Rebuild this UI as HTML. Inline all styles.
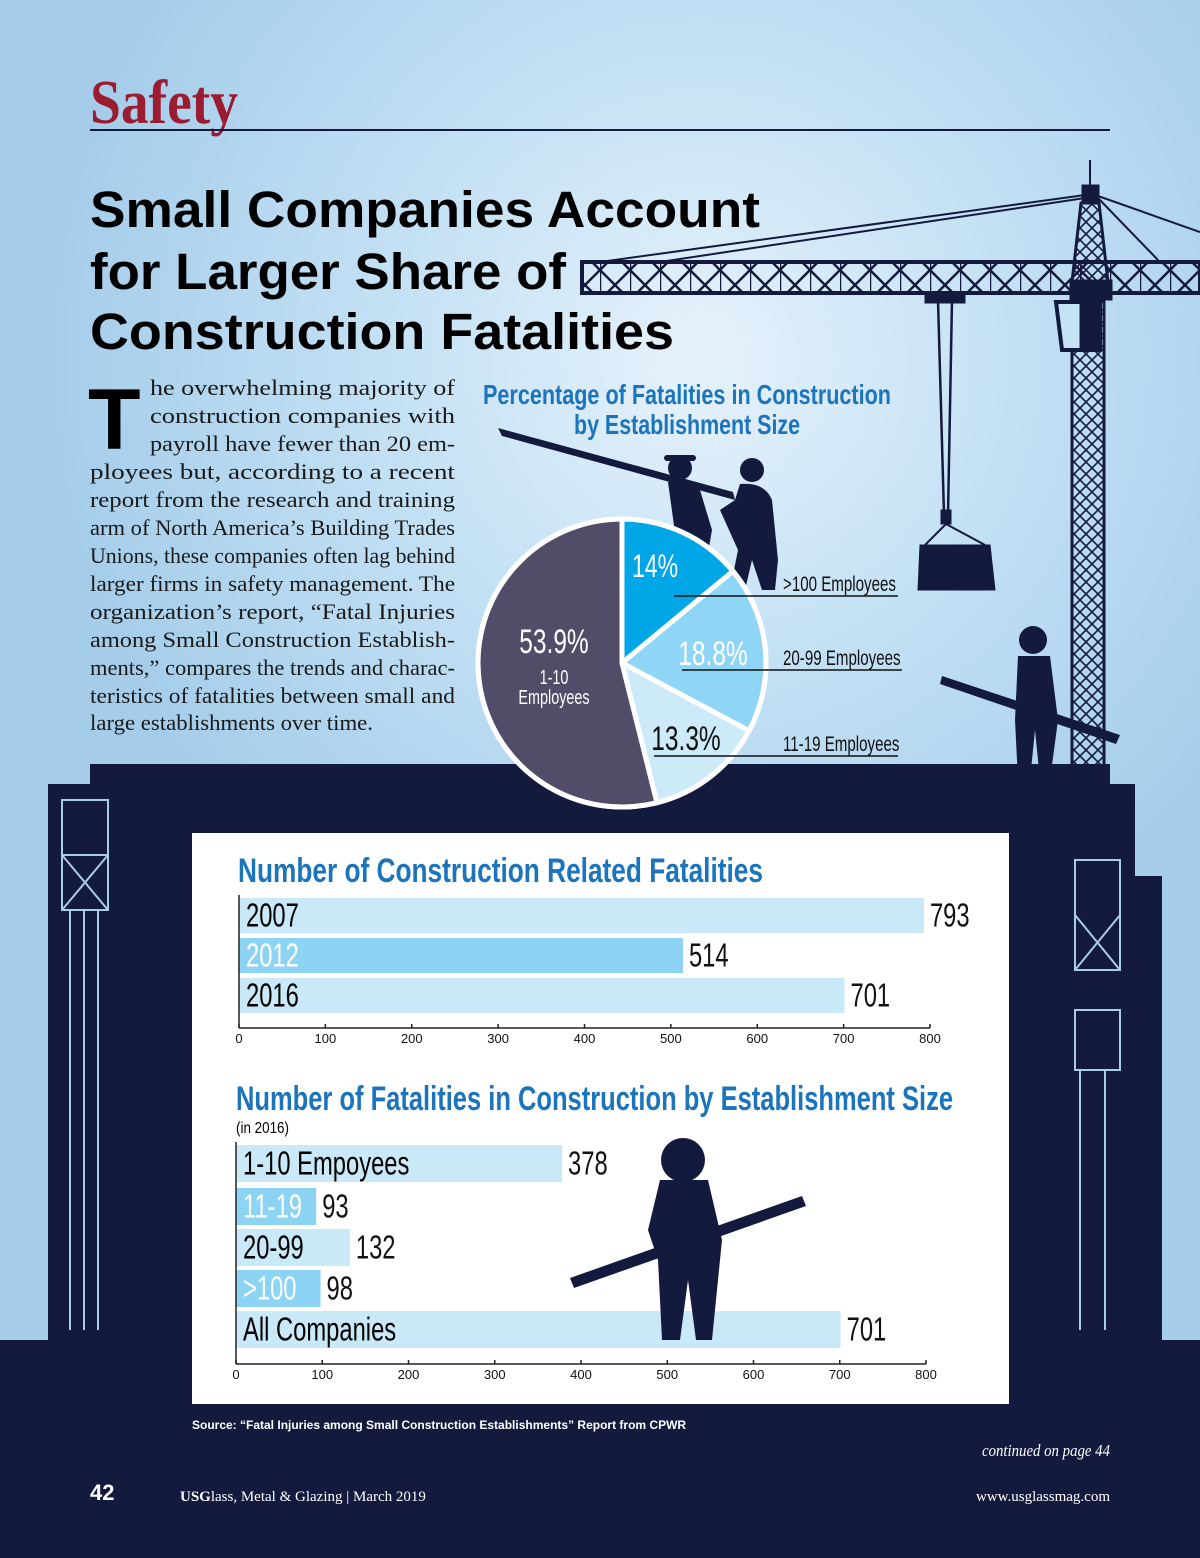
<!DOCTYPE html>
<html><head><meta charset="utf-8">
<style>
html,body{margin:0;padding:0;width:1200px;height:1558px;overflow:hidden}
svg{display:block}
.n{font-family:"Liberation Sans Narrow","Liberation Sans",sans-serif}
.s{font-family:"Liberation Serif",serif}
.a{font-family:"Liberation Sans",sans-serif}
</style></head>
<body>
<svg id="page" width="1200" height="1558" viewBox="0 0 1200 1558" xmlns="http://www.w3.org/2000/svg">
<defs>
<radialGradient id="bg" cx="700" cy="360" r="650" gradientUnits="userSpaceOnUse">
<stop offset="0" stop-color="#e6f2fb"/><stop offset="0.45" stop-color="#c6e2f5"/><stop offset="1" stop-color="#a5cdea"/>
</radialGradient>
<pattern id="lat" width="12" height="12" patternUnits="userSpaceOnUse">
<path d="M0 0L12 12M12 0L0 12" stroke="#141a3d" stroke-width="1.6"/>
</pattern>
<pattern id="jl" width="30" height="30" patternUnits="userSpaceOnUse">
<path d="M0 0L30 30M30 0L0 30M0 0V30" stroke="#141a3d" stroke-width="2.5"/>
</pattern>
</defs>
<rect width="1200" height="1558" fill="url(#bg)"/>

<g fill="#141a3d" stroke="#141a3d">
<line x1="1090" y1="160" x2="1090" y2="190" stroke-width="2"/>
<line x1="1085" y1="195" x2="600" y2="262" stroke-width="2"/>
<line x1="1085" y1="198" x2="660" y2="262" stroke-width="2"/>
<line x1="1098" y1="196" x2="1200" y2="232" stroke-width="2"/>
<line x1="1098" y1="198" x2="1158" y2="260" stroke-width="2"/>
<rect x="1082" y="185" width="17" height="18"/>
<path d="M1081 203L1072 282H1108L1099 203Z" fill="url(#lat)" stroke-width="3"/>
<rect x="582" y="262" width="618" height="31" fill="url(#jl)" stroke-width="4"/>
<rect x="1070" y="280" width="42" height="20"/>
<rect x="1072" y="300" width="32" height="480" fill="url(#lat)" stroke-width="3"/>
<path d="M1056 302H1100V350H1062Z" stroke-width="4" fill="#c6e3f6"/>
<rect x="1080" y="302" width="20" height="48"/>
<rect x="925" y="293" width="40" height="10"/>
<line x1="938" y1="300" x2="944" y2="515" stroke-width="2.5"/>
<line x1="952" y1="300" x2="948" y2="515" stroke-width="2.5"/>
<rect x="941" y="510" width="10" height="14"/>
<path d="M946 524L925 545M946 524L985 545" stroke-width="2" fill="none"/>
<path d="M920 545H990L995 590H918Z"/>
</g>

<g fill="#141a3d">
<rect x="90" y="764" width="1020" height="30"/>
<rect x="48" y="784" width="1087" height="780"/>
<rect x="0" y="1340" width="1200" height="218"/>
<rect x="1100" y="876" width="62" height="470"/>
</g>
<g stroke="#a9cde8" stroke-width="2" fill="none">
<rect x="62" y="800" width="46" height="110"/>
<path d="M62 855L108 910M108 855L62 910M62 855H108"/>
<path d="M70 910V1330M84 910V1330M98 910V1330"/>
<rect x="1075" y="860" width="45" height="110"/>
<path d="M1075 915L1120 970M1120 915L1075 970"/>
<rect x="1075" y="1010" width="45" height="60"/>
<path d="M1080 1070V1330M1105 1070V1330"/>
</g>

<g fill="#141a3d">
<path d="M498 428L502 436L735 500L733 492Z"/>
<circle cx="680" cy="468" r="12"/><rect x="664" y="455" width="32" height="6" rx="3"/>
<path d="M668 482Q690 478 700 490L712 530L705 570L712 590H700L690 560L682 590H670L676 540Z"/>
<circle cx="752" cy="470" r="12"/>
<path d="M740 484Q765 482 772 500L778 560L775 590H762L752 560L745 590H730L738 550L720 510L735 500Z"/>
<circle cx="1033" cy="640" r="14"/>
<path d="M1018 656H1050L1058 720L1050 780H1040L1035 730L1030 780H1018L1015 720Z"/>
<path d="M942 676L1120 735L1116 744L940 684Z"/>
</g>

<text x="90" y="123" class="s" font-size="62" font-weight="bold" fill="#9b1b30" textLength="148" lengthAdjust="spacingAndGlyphs">Safety</text>
<line x1="90" y1="130" x2="1110" y2="130" stroke="#141a3d" stroke-width="2"/>
<g class="a" font-weight="bold" font-size="51" fill="#000">
<text x="90" y="227" textLength="670" lengthAdjust="spacingAndGlyphs">Small Companies Account</text>
<text x="90" y="289" textLength="476" lengthAdjust="spacingAndGlyphs">for Larger Share of</text>
<text x="90" y="349" textLength="584" lengthAdjust="spacingAndGlyphs">Construction Fatalities</text>
</g>

<g class="s" font-size="22" fill="#1a1a1a">
<text x="88" y="449" font-size="86" font-weight="bold" class="a" fill="#000">T</text>
<text x="150" y="395" textLength="305" lengthAdjust="spacingAndGlyphs">he overwhelming majority of</text>
<text x="150" y="423" textLength="305" lengthAdjust="spacingAndGlyphs">construction companies with</text>
<text x="150" y="451" textLength="305" lengthAdjust="spacingAndGlyphs">payroll have fewer than 20 em-</text>
<text x="90" y="479" textLength="365" lengthAdjust="spacingAndGlyphs">ployees but, according to a recent</text>
<text x="90" y="507" textLength="365" lengthAdjust="spacingAndGlyphs">report from the research and training</text>
<text x="90" y="535" textLength="365" lengthAdjust="spacingAndGlyphs">arm of North America’s Building Trades</text>
<text x="90" y="563" textLength="365" lengthAdjust="spacingAndGlyphs">Unions, these companies often lag behind</text>
<text x="90" y="591" textLength="365" lengthAdjust="spacingAndGlyphs">larger firms in safety management. The</text>
<text x="90" y="619" textLength="365" lengthAdjust="spacingAndGlyphs">organization’s report, “Fatal Injuries</text>
<text x="90" y="647" textLength="365" lengthAdjust="spacingAndGlyphs">among Small Construction Establish-</text>
<text x="90" y="675" textLength="365" lengthAdjust="spacingAndGlyphs">ments,” compares the trends and charac-</text>
<text x="90" y="703" textLength="365" lengthAdjust="spacingAndGlyphs">teristics of fatalities between small and</text>
<text x="90" y="730" textLength="283" lengthAdjust="spacingAndGlyphs">large establishments over time.</text>
</g>

<g class="n" font-weight="bold" font-size="28" fill="#1b74bc" text-anchor="middle">
<text x="687" y="404" textLength="408" lengthAdjust="spacingAndGlyphs">Percentage of Fatalities in Construction</text>
<text x="687" y="434" textLength="226" lengthAdjust="spacingAndGlyphs">by Establishment Size</text>
</g>
<g id="pie"></g>

<rect x="192" y="833" width="817" height="571" fill="#fff"/>
<text x="238" y="882" class="n" font-weight="bold" font-size="34" fill="#1b74bc" textLength="525" lengthAdjust="spacingAndGlyphs">Number of Construction Related Fatalities</text>
<g id="bar1"></g>
<text x="236" y="1110" class="n" font-weight="bold" font-size="34" fill="#1b74bc" textLength="717" lengthAdjust="spacingAndGlyphs">Number of Fatalities in Construction by Establishment Size</text>
<text x="236" y="1133" class="n" font-size="16" fill="#000" textLength="53" lengthAdjust="spacingAndGlyphs">(in 2016)</text>
<g id="bar2"></g>
<g id="w2" fill="#141a3d">
<circle cx="683" cy="1160" r="22"/>
<path d="M660 1180H708L722 1240L712 1340H696L688 1280L680 1340H662L658 1260L648 1230Z"/>
<path d="M570 1278L802 1196L806 1206L574 1288Z"/>
</g>

<text x="192" y="1429" class="a" font-weight="bold" font-size="12" fill="#fff">Source: “Fatal Injuries among Small Construction Establishments” Report from CPWR</text>
<text x="1110" y="1456" class="s" font-style="italic" font-size="17" fill="#fff" text-anchor="end" textLength="128" lengthAdjust="spacingAndGlyphs">continued on page 44</text>
<text x="90" y="1500" class="a" font-weight="bold" font-size="22" fill="#fff">42</text>
<text x="180" y="1501" class="s" font-size="15" fill="#fff"><tspan font-weight="bold">USG</tspan>lass, Metal &amp; Glazing  |  March 2019</text>
<text x="1110" y="1501" class="s" font-size="15" fill="#fff" text-anchor="end">www.usglassmag.com</text>
</svg>
<script>
const NS="http://www.w3.org/2000/svg";
const pieLabels=[">100 Employees","20-99 Employees","11-19 Employees","1-10 Employees"];
const pieValues=[14,18.8,13.3,53.9];
const pieText=["14%","18.8%","13.3%","53.9%"];
const yearCats=["2007","2012","2016"];
const yearVals=[793,514,701];
const sizeCats=["1-10 Empoyees","11-19","20-99",">100","All Companies"];
const sizeVals=[378,93,132,98,701];
const ticks=[0,100,200,300,400,500,600,700,800];

function mk(tag,attrs,parent,txt){const e=document.createElementNS(NS,tag);for(const k in attrs)e.setAttribute(k,attrs[k]);if(txt!==undefined)e.textContent=txt;parent.appendChild(e);return e;}
// narrow text: horizontally compressed
function nt(x,y,size,fill,txt,parent,anchor){
const e=mk('text',{x:0,y:0,'font-size':size,fill:fill,class:'a',transform:`translate(${x},${y}) scale(0.72,1)`},parent,txt);
if(anchor)e.setAttribute('text-anchor',anchor);
return e;
}

(function(){
const g=document.getElementById('pie');
const cx=622,cy=663,r=144;
const cols=["#00a6e6","#8fd5f5","#cdeaf9","#514c68"];
const tcol=["#fff","#fff","#111","#fff"];
const total=pieValues.reduce((a,b)=>a+b,0);
let a0=-Math.PI/2;
pieValues.forEach((v,i)=>{
const a1=a0+v/total*2*Math.PI;
const x0=cx+r*Math.cos(a0),y0=cy+r*Math.sin(a0),x1=cx+r*Math.cos(a1),y1=cy+r*Math.sin(a1);
const p=mk('path',{d:`M${cx} ${cy}L${x0} ${y0}A${r} ${r} 0 ${a1-a0>Math.PI?1:0} 1 ${x1} ${y1}Z`,fill:cols[i],stroke:'#fff','stroke-width':5},g);


a0=a1;
});
mk('circle',{cx,cy,r,fill:'none',stroke:'#fff','stroke-width':5},g);
const pos=[[655,577,32],[713,665,34],[686,750,34],[554,653,34]];
pieText.forEach((t,i)=>{
const e=nt(pos[i][0],pos[i][1],pos[i][2],tcol[i],t,g,'middle');


});
nt(554,684,20,'#fff','1-10',g,'middle');
nt(554,704,20,'#fff','Employees',g,'middle');
const lab=[[783,591,674,596,898],[783,665,682,670,902],[783,751,654,756,898]];
for(let i=0;i<3;i++){
const L=lab[i];
const e=nt(L[0],L[1],21,'#111',pieLabels[i],g);


mk('line',{x1:L[2],y1:L[3],x2:L[4],y2:L[3],stroke:'#111','stroke-width':1.5},g);
}
})();

function barChart(id,cats,vals,x0,x800,tops,h,axisY,cols,labCols){
const g=document.getElementById(id);
const sx=v=>x0+(x800-x0)*v/800;
cats.forEach((c,i)=>{
const b=mk('rect',{x:x0,y:tops[i],width:sx(vals[i])-x0,height:h,fill:cols[i]},g);


const t=nt(x0+7,tops[i]+h/2+11,33,labCols[i],c,g);


const v=nt(sx(vals[i])+6,tops[i]+h/2+11,33,'#111',String(vals[i]),g);


});
mk('line',{x1:x0,y1:tops[0]-3,x2:x0,y2:axisY,stroke:'#222','stroke-width':1.5},g);
mk('line',{x1:x0,y1:axisY,x2:x800,y2:axisY,stroke:'#222','stroke-width':1.5},g);
ticks.forEach(t=>{
mk('line',{x1:sx(t),y1:axisY-4,x2:sx(t),y2:axisY,stroke:'#222','stroke-width':1.5},g);
const e=mk('text',{x:sx(t),y:axisY+15,'text-anchor':'middle','font-size':13,fill:'#111',class:'a'},g,String(t));


});
}
const L="#c9e9f8",M="#8dd4f4";
barChart('bar1',yearCats,yearVals,239,930,[898,938,978],35,1028,[L,M,L],["#000","#fff","#000"]);
barChart('bar2',sizeCats,sizeVals,236,926,[1145,1188,1229,1270,1311],37,1364,[L,M,L,M,L],["#000","#fff","#000","#fff","#000"]);
document.getElementById('page').appendChild(document.getElementById('w2'));
</script>
</body></html>
